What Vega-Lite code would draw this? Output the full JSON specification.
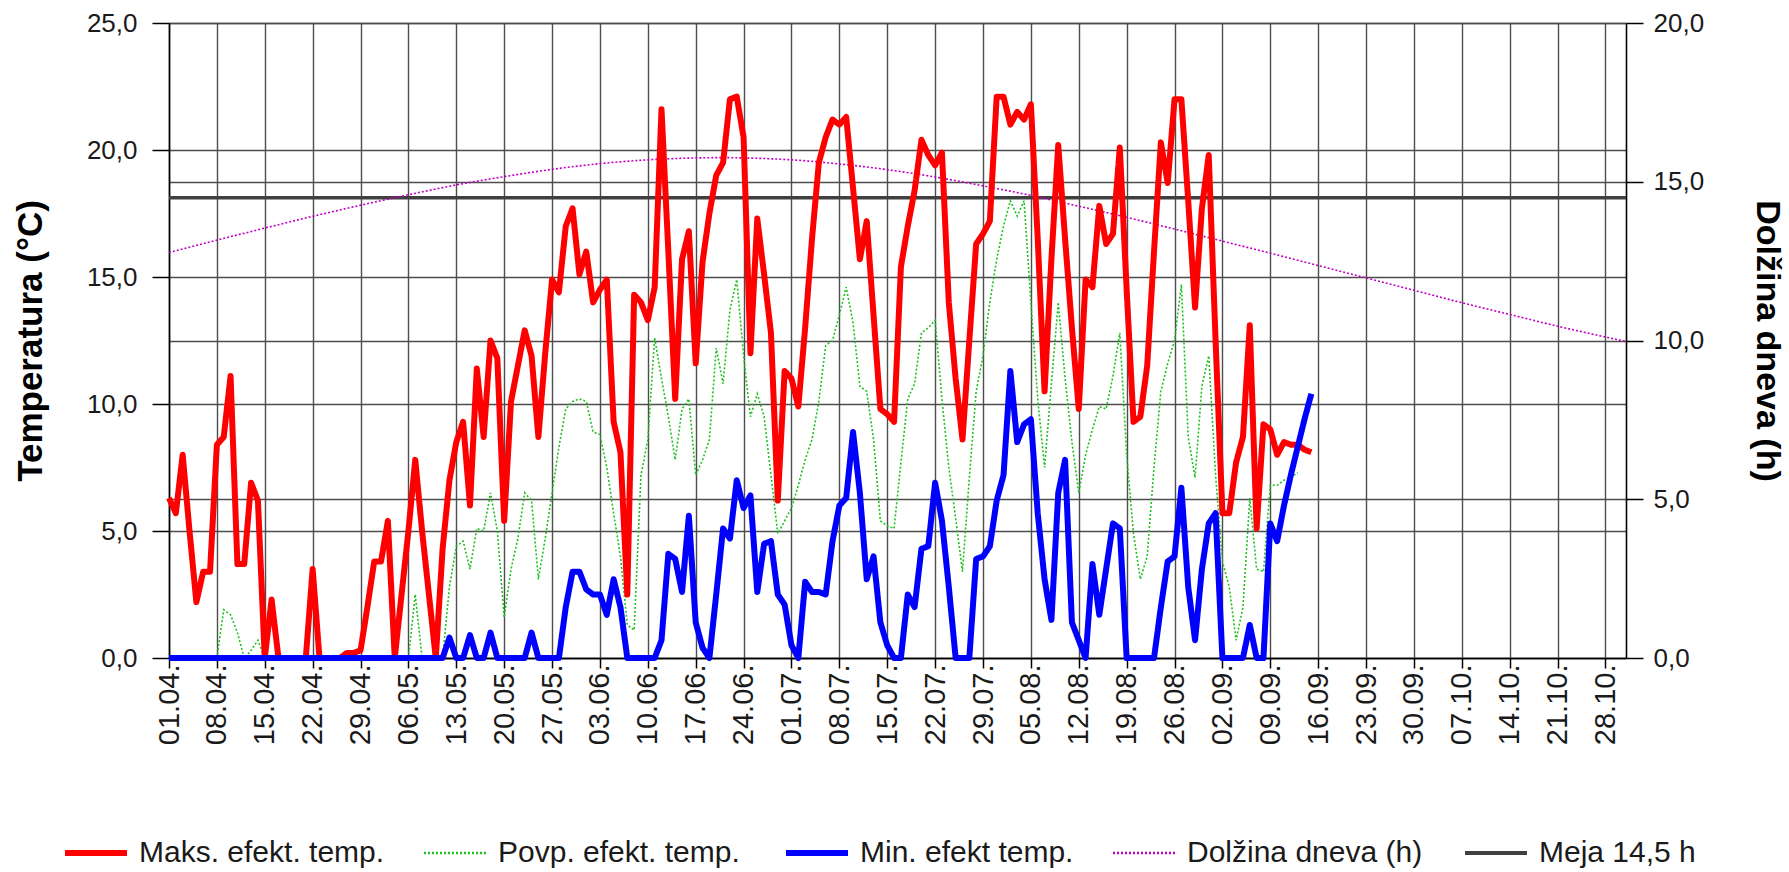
{
  "$schema": "https://vega.github.io/schema/vega-lite/v6.json",
  "width": 1457,
  "height": 635,
  "autosize": {"type": "none"},
  "padding": {"left": 169, "top": 23, "right": 163, "bottom": 214},
  "background": "white",
  "config": {
    "font": "Liberation Sans",
    "view": {"stroke": null},
    "axis": {
      "gridColor": "#4d4d4d", "gridWidth": 1.4, "gridOpacity": 1,
      "domainColor": "#000000", "domainWidth": 1.6,
      "tickColor": "#000000", "tickWidth": 1.5,
      "labelColor": "#1a1a1a", "labelFont": "Liberation Sans",
      "titleFont": "Liberation Sans", "titleColor": "#000000", "titleFontWeight": "bold"
    }
  },
  "datasets": {
    "day": [
      {"d": "2018-04-01", "v": 14.5, "s": "meja"},
      {"d": "2018-10-31", "v": 14.5, "s": "meja"},
      {"d": "2018-04-01", "v": 12.77, "s": "len"},
      {"d": "2018-04-08", "v": 13.16, "s": "len"},
      {"d": "2018-04-15", "v": 13.54, "s": "len"},
      {"d": "2018-04-22", "v": 13.91, "s": "len"},
      {"d": "2018-04-29", "v": 14.26, "s": "len"},
      {"d": "2018-05-06", "v": 14.59, "s": "len"},
      {"d": "2018-05-13", "v": 14.90, "s": "len"},
      {"d": "2018-05-20", "v": 15.16, "s": "len"},
      {"d": "2018-05-27", "v": 15.39, "s": "len"},
      {"d": "2018-06-03", "v": 15.57, "s": "len"},
      {"d": "2018-06-10", "v": 15.69, "s": "len"},
      {"d": "2018-06-17", "v": 15.75, "s": "len"},
      {"d": "2018-06-21", "v": 15.76, "s": "len"},
      {"d": "2018-06-24", "v": 15.75, "s": "len"},
      {"d": "2018-07-01", "v": 15.69, "s": "len"},
      {"d": "2018-07-08", "v": 15.56, "s": "len"},
      {"d": "2018-07-15", "v": 15.38, "s": "len"},
      {"d": "2018-07-22", "v": 15.15, "s": "len"},
      {"d": "2018-07-29", "v": 14.87, "s": "len"},
      {"d": "2018-08-05", "v": 14.57, "s": "len"},
      {"d": "2018-08-12", "v": 14.23, "s": "len"},
      {"d": "2018-08-19", "v": 13.88, "s": "len"},
      {"d": "2018-08-26", "v": 13.51, "s": "len"},
      {"d": "2018-09-02", "v": 13.13, "s": "len"},
      {"d": "2018-09-09", "v": 12.75, "s": "len"},
      {"d": "2018-09-16", "v": 12.36, "s": "len"},
      {"d": "2018-09-23", "v": 11.97, "s": "len"},
      {"d": "2018-09-30", "v": 11.58, "s": "len"},
      {"d": "2018-10-07", "v": 11.19, "s": "len"},
      {"d": "2018-10-14", "v": 10.82, "s": "len"},
      {"d": "2018-10-21", "v": 10.45, "s": "len"},
      {"d": "2018-10-28", "v": 10.11, "s": "len"},
      {"d": "2018-10-31", "v": 9.97, "s": "len"}
    ],
    "temp": [
      {"d": "2018-04-01", "max": 6.3, "avg": 0, "min": 0},
      {"d": "2018-04-02", "max": 5.7, "avg": 0, "min": 0},
      {"d": "2018-04-03", "max": 8.0, "avg": 0, "min": 0},
      {"d": "2018-04-04", "max": 5.0, "avg": 0, "min": 0},
      {"d": "2018-04-05", "max": 2.2, "avg": 0, "min": 0},
      {"d": "2018-04-06", "max": 3.4, "avg": 0, "min": 0},
      {"d": "2018-04-07", "max": 3.4, "avg": 0, "min": 0},
      {"d": "2018-04-08", "max": 8.4, "avg": 0, "min": 0},
      {"d": "2018-04-09", "max": 8.7, "avg": 1.9, "min": 0},
      {"d": "2018-04-10", "max": 11.1, "avg": 1.7, "min": 0},
      {"d": "2018-04-11", "max": 3.7, "avg": 1.0, "min": 0},
      {"d": "2018-04-12", "max": 3.7, "avg": 0, "min": 0},
      {"d": "2018-04-13", "max": 6.9, "avg": 0.3, "min": 0},
      {"d": "2018-04-14", "max": 6.2, "avg": 0.7, "min": 0},
      {"d": "2018-04-15", "max": 0, "avg": 0, "min": 0},
      {"d": "2018-04-16", "max": 2.3, "avg": 0, "min": 0},
      {"d": "2018-04-17", "max": 0, "avg": 0, "min": 0},
      {"d": "2018-04-18", "max": 0, "avg": 0, "min": 0},
      {"d": "2018-04-19", "max": 0, "avg": 0, "min": 0},
      {"d": "2018-04-20", "max": 0, "avg": 0, "min": 0},
      {"d": "2018-04-21", "max": 0, "avg": 0, "min": 0},
      {"d": "2018-04-22", "max": 3.5, "avg": 0, "min": 0},
      {"d": "2018-04-23", "max": 0, "avg": 0, "min": 0},
      {"d": "2018-04-24", "max": 0, "avg": 0, "min": 0},
      {"d": "2018-04-25", "max": 0, "avg": 0, "min": 0},
      {"d": "2018-04-26", "max": 0, "avg": 0, "min": 0},
      {"d": "2018-04-27", "max": 0.2, "avg": 0, "min": 0},
      {"d": "2018-04-28", "max": 0.2, "avg": 0, "min": 0},
      {"d": "2018-04-29", "max": 0.3, "avg": 0, "min": 0},
      {"d": "2018-04-30", "max": 2.0, "avg": 0, "min": 0},
      {"d": "2018-05-01", "max": 3.8, "avg": 0, "min": 0},
      {"d": "2018-05-02", "max": 3.8, "avg": 0, "min": 0},
      {"d": "2018-05-03", "max": 5.4, "avg": 0, "min": 0},
      {"d": "2018-05-04", "max": 0, "avg": 0, "min": 0},
      {"d": "2018-05-05", "max": 2.5, "avg": 0, "min": 0},
      {"d": "2018-05-06", "max": 5.0, "avg": 0, "min": 0},
      {"d": "2018-05-07", "max": 7.8, "avg": 2.5, "min": 0},
      {"d": "2018-05-08", "max": 5.0, "avg": 0, "min": 0},
      {"d": "2018-05-09", "max": 2.5, "avg": 0, "min": 0},
      {"d": "2018-05-10", "max": 0, "avg": 0, "min": 0},
      {"d": "2018-05-11", "max": 4.3, "avg": 0, "min": 0},
      {"d": "2018-05-12", "max": 7.0, "avg": 2.8, "min": 0.8},
      {"d": "2018-05-13", "max": 8.5, "avg": 4.4, "min": 0},
      {"d": "2018-05-14", "max": 9.3, "avg": 4.6, "min": 0},
      {"d": "2018-05-15", "max": 6.0, "avg": 3.5, "min": 0.9},
      {"d": "2018-05-16", "max": 11.4, "avg": 5.1, "min": 0},
      {"d": "2018-05-17", "max": 8.7, "avg": 5.0, "min": 0},
      {"d": "2018-05-18", "max": 12.5, "avg": 6.5, "min": 1.0},
      {"d": "2018-05-19", "max": 11.8, "avg": 5.0, "min": 0},
      {"d": "2018-05-20", "max": 5.4, "avg": 1.6, "min": 0},
      {"d": "2018-05-21", "max": 10.1, "avg": 3.5, "min": 0},
      {"d": "2018-05-22", "max": 11.5, "avg": 4.7, "min": 0},
      {"d": "2018-05-23", "max": 12.9, "avg": 6.5, "min": 0},
      {"d": "2018-05-24", "max": 11.9, "avg": 6.2, "min": 1.0},
      {"d": "2018-05-25", "max": 8.7, "avg": 3.1, "min": 0},
      {"d": "2018-05-26", "max": 12.0, "avg": 4.7, "min": 0},
      {"d": "2018-05-27", "max": 14.9, "avg": 6.5, "min": 0},
      {"d": "2018-05-28", "max": 14.4, "avg": 8.3, "min": 0},
      {"d": "2018-05-29", "max": 17.0, "avg": 9.8, "min": 2.0},
      {"d": "2018-05-30", "max": 17.7, "avg": 10.1, "min": 3.4},
      {"d": "2018-05-31", "max": 15.1, "avg": 10.2, "min": 3.4},
      {"d": "2018-06-01", "max": 16.0, "avg": 10.1, "min": 2.7},
      {"d": "2018-06-02", "max": 14.0, "avg": 8.9, "min": 2.5},
      {"d": "2018-06-03", "max": 14.5, "avg": 8.8, "min": 2.5},
      {"d": "2018-06-04", "max": 14.9, "avg": 7.5, "min": 1.7},
      {"d": "2018-06-05", "max": 9.3, "avg": 5.7, "min": 3.1},
      {"d": "2018-06-06", "max": 8.1, "avg": 4.0, "min": 2.0},
      {"d": "2018-06-07", "max": 2.5, "avg": 1.3, "min": 0},
      {"d": "2018-06-08", "max": 14.3, "avg": 1.1, "min": 0},
      {"d": "2018-06-09", "max": 14.0, "avg": 7.2, "min": 0},
      {"d": "2018-06-10", "max": 13.3, "avg": 8.6, "min": 0},
      {"d": "2018-06-11", "max": 14.6, "avg": 12.6, "min": 0},
      {"d": "2018-06-12", "max": 21.6, "avg": 11.0, "min": 0.7},
      {"d": "2018-06-13", "max": 16.0, "avg": 9.5, "min": 4.1},
      {"d": "2018-06-14", "max": 10.2, "avg": 7.8, "min": 3.9},
      {"d": "2018-06-15", "max": 15.7, "avg": 9.8, "min": 2.6},
      {"d": "2018-06-16", "max": 16.8, "avg": 10.2, "min": 5.6},
      {"d": "2018-06-17", "max": 11.6, "avg": 7.2, "min": 1.4},
      {"d": "2018-06-18", "max": 15.6, "avg": 7.8, "min": 0.4},
      {"d": "2018-06-19", "max": 17.5, "avg": 8.6, "min": 0},
      {"d": "2018-06-20", "max": 19.0, "avg": 12.2, "min": 2.5},
      {"d": "2018-06-21", "max": 19.5, "avg": 10.8, "min": 5.1},
      {"d": "2018-06-22", "max": 22.0, "avg": 13.7, "min": 4.7},
      {"d": "2018-06-23", "max": 22.1, "avg": 14.9, "min": 7.0},
      {"d": "2018-06-24", "max": 20.5, "avg": 11.9, "min": 5.9},
      {"d": "2018-06-25", "max": 12.0, "avg": 9.5, "min": 6.4},
      {"d": "2018-06-26", "max": 17.3, "avg": 10.4, "min": 2.6},
      {"d": "2018-06-27", "max": 15.1, "avg": 9.5, "min": 4.5},
      {"d": "2018-06-28", "max": 12.8, "avg": 7.2, "min": 4.6},
      {"d": "2018-06-29", "max": 6.2, "avg": 4.9, "min": 2.5},
      {"d": "2018-06-30", "max": 11.3, "avg": 5.4, "min": 2.1},
      {"d": "2018-07-01", "max": 11.0, "avg": 5.9, "min": 0.5},
      {"d": "2018-07-02", "max": 9.9, "avg": 6.8, "min": 0},
      {"d": "2018-07-03", "max": 13.0, "avg": 7.8, "min": 3.0},
      {"d": "2018-07-04", "max": 16.5, "avg": 8.6, "min": 2.6},
      {"d": "2018-07-05", "max": 19.5, "avg": 10.1, "min": 2.6},
      {"d": "2018-07-06", "max": 20.5, "avg": 12.3, "min": 2.5},
      {"d": "2018-07-07", "max": 21.2, "avg": 12.5, "min": 4.6},
      {"d": "2018-07-08", "max": 21.0, "avg": 13.5, "min": 6.0},
      {"d": "2018-07-09", "max": 21.3, "avg": 14.6, "min": 6.3},
      {"d": "2018-07-10", "max": 18.5, "avg": 13.2, "min": 8.9},
      {"d": "2018-07-11", "max": 15.7, "avg": 10.7, "min": 6.5},
      {"d": "2018-07-12", "max": 17.2, "avg": 10.5, "min": 3.1},
      {"d": "2018-07-13", "max": 13.5, "avg": 8.6, "min": 4.0},
      {"d": "2018-07-14", "max": 9.8, "avg": 5.4, "min": 1.4},
      {"d": "2018-07-15", "max": 9.6, "avg": 5.2, "min": 0.5},
      {"d": "2018-07-16", "max": 9.3, "avg": 5.1, "min": 0},
      {"d": "2018-07-17", "max": 15.4, "avg": 7.7, "min": 0},
      {"d": "2018-07-18", "max": 17.0, "avg": 10.2, "min": 2.5},
      {"d": "2018-07-19", "max": 18.4, "avg": 10.8, "min": 2.0},
      {"d": "2018-07-20", "max": 20.4, "avg": 12.8, "min": 4.3},
      {"d": "2018-07-21", "max": 19.8, "avg": 13.0, "min": 4.4},
      {"d": "2018-07-22", "max": 19.4, "avg": 13.3, "min": 6.9},
      {"d": "2018-07-23", "max": 19.9, "avg": 10.2, "min": 5.4},
      {"d": "2018-07-24", "max": 14.0, "avg": 7.5, "min": 2.8},
      {"d": "2018-07-25", "max": 11.0, "avg": 5.5, "min": 0},
      {"d": "2018-07-26", "max": 8.6, "avg": 3.4, "min": 0},
      {"d": "2018-07-27", "max": 12.5, "avg": 7.1, "min": 0},
      {"d": "2018-07-28", "max": 16.3, "avg": 10.5, "min": 3.9},
      {"d": "2018-07-29", "max": 16.7, "avg": 11.9, "min": 4.0},
      {"d": "2018-07-30", "max": 17.2, "avg": 14.0, "min": 4.4},
      {"d": "2018-07-31", "max": 22.1, "avg": 15.7, "min": 6.2},
      {"d": "2018-08-01", "max": 22.1, "avg": 17.0, "min": 7.2},
      {"d": "2018-08-02", "max": 21.0, "avg": 18.0, "min": 11.3},
      {"d": "2018-08-03", "max": 21.5, "avg": 17.4, "min": 8.5},
      {"d": "2018-08-04", "max": 21.2, "avg": 18.0, "min": 9.2},
      {"d": "2018-08-05", "max": 21.8, "avg": 14.0, "min": 9.4},
      {"d": "2018-08-06", "max": 16.5, "avg": 10.2, "min": 5.7},
      {"d": "2018-08-07", "max": 10.5, "avg": 7.5, "min": 3.1},
      {"d": "2018-08-08", "max": 15.7, "avg": 10.8, "min": 1.5},
      {"d": "2018-08-09", "max": 20.2, "avg": 14.0, "min": 6.5},
      {"d": "2018-08-10", "max": 16.5, "avg": 11.0, "min": 7.8},
      {"d": "2018-08-11", "max": 13.0, "avg": 8.5, "min": 1.4},
      {"d": "2018-08-12", "max": 9.8, "avg": 6.5, "min": 0.7},
      {"d": "2018-08-13", "max": 14.9, "avg": 8.0, "min": 0},
      {"d": "2018-08-14", "max": 14.6, "avg": 9.0, "min": 3.7},
      {"d": "2018-08-15", "max": 17.8, "avg": 9.9, "min": 1.7},
      {"d": "2018-08-16", "max": 16.3, "avg": 9.8, "min": 3.5},
      {"d": "2018-08-17", "max": 16.7, "avg": 11.1, "min": 5.3},
      {"d": "2018-08-18", "max": 20.1, "avg": 12.8, "min": 5.1},
      {"d": "2018-08-19", "max": 14.5, "avg": 8.0, "min": 0},
      {"d": "2018-08-20", "max": 9.3, "avg": 4.9, "min": 0},
      {"d": "2018-08-21", "max": 9.5, "avg": 3.1, "min": 0},
      {"d": "2018-08-22", "max": 11.5, "avg": 4.0, "min": 0},
      {"d": "2018-08-23", "max": 16.0, "avg": 7.5, "min": 0},
      {"d": "2018-08-24", "max": 20.3, "avg": 10.5, "min": 2.0},
      {"d": "2018-08-25", "max": 18.7, "avg": 11.6, "min": 3.8},
      {"d": "2018-08-26", "max": 22.0, "avg": 12.5, "min": 4.0},
      {"d": "2018-08-27", "max": 22.0, "avg": 14.7, "min": 6.7},
      {"d": "2018-08-28", "max": 18.0, "avg": 8.7, "min": 2.8},
      {"d": "2018-08-29", "max": 13.8, "avg": 7.1, "min": 0.7},
      {"d": "2018-08-30", "max": 17.7, "avg": 10.7, "min": 3.5},
      {"d": "2018-08-31", "max": 19.8, "avg": 11.9, "min": 5.3},
      {"d": "2018-09-01", "max": 12.5, "avg": 7.2, "min": 5.7},
      {"d": "2018-09-02", "max": 5.7, "avg": 3.8, "min": 0},
      {"d": "2018-09-03", "max": 5.7, "avg": 2.8, "min": 0},
      {"d": "2018-09-04", "max": 7.7, "avg": 0.7, "min": 0},
      {"d": "2018-09-05", "max": 8.7, "avg": 2.0, "min": 0},
      {"d": "2018-09-06", "max": 13.1, "avg": 6.3, "min": 1.3},
      {"d": "2018-09-07", "max": 5.1, "avg": 3.5, "min": 0},
      {"d": "2018-09-08", "max": 9.2, "avg": 3.4, "min": 0},
      {"d": "2018-09-09", "max": 9.0, "avg": 6.8, "min": 5.3},
      {"d": "2018-09-10", "max": 8.0, "avg": 6.8, "min": 4.6},
      {"d": "2018-09-11", "max": 8.5, "avg": 7.0, "min": 6.0},
      {"d": "2018-09-12", "max": 8.4, "avg": 7.1, "min": 7.2},
      {"d": "2018-09-13", "max": 8.4, "avg": 7.3, "min": 8.3},
      {"d": "2018-09-14", "max": 8.2, "avg": null, "min": 9.4},
      {"d": "2018-09-15", "max": 8.1, "avg": null, "min": 10.4}
    ]
  },
  "layer": [
    {
      "data": {"name": "day"},
      "encoding": {
        "x": {
          "field": "d", "type": "temporal",
          "scale": {"type": "utc", "domain": [{"year": 2018, "month": 4, "date": 1, "utc": true}, {"year": 2018, "month": 10, "date": 31, "utc": true}]},
          "axis": {"title": null, "labelExpr": "utcFormat(datum.value, '%d.%m.')", "tickCount": {"interval": "week", "step": 1}, "labelAngle": 270, "labelFontSize": 29, "labelOverlap": false, "labelFlush": false, "labelBound": false, "tickSize": 10, "labelPadding": -4, "grid": true}
        },
        "y": {
          "field": "v", "type": "quantitative",
          "scale": {"domain": [0, 20], "nice": false},
          "axis": {"orient": "right", "title": "Dolžina dneva (h)", "titleFontSize": 34, "titlePadding": 46, "values": [0, 5, 10, 15, 20], "labelExpr": "replace(format(datum.value, '.1f'), '.', ',')", "labelFontSize": 26, "tickSize": 17, "labelPadding": 10, "grid": true}
        },
        "color": {
          "field": "s", "type": "nominal",
          "scale": {"domain": ["max", "avg", "min", "len", "meja"], "range": ["#ff0000", "#1ec01e", "#0000ff", "#c000c0", "#404040"]},
          "legend": {"title": null, "orient": "none", "direction": "horizontal", "legendX": -88, "legendY": 815, "symbolType": "stroke", "symbolSize": 3844, "symbolStrokeWidth": 5, "labelFontSize": 30, "labelColor": "#1a1a1a", "labelOffset": 28, "columnPadding": 34, "labelLimit": 400,
            "labelExpr": "datum.value === 'max' ? 'Maks. efekt. temp.' : datum.value === 'avg' ? 'Povp. efekt. temp.' : datum.value === 'min' ? 'Min. efekt temp.' : datum.value === 'len' ? 'Dolžina dneva (h)' : 'Meja 14,5 h'",
            "encode": {"symbols": {"update": {"strokeWidth": {"signal": "datum.value === 'avg' || datum.value === 'len' ? 2.5 : (datum.value === 'meja' ? 4 : 6)"}}}}}
        },
        "strokeDash": {
          "field": "s", "type": "nominal",
          "scale": {"domain": ["max", "avg", "min", "len", "meja"], "range": [[1, 0], [2, 2], [1, 0], [2, 2], [1, 0]]},
          "legend": {"title": null, "orient": "none", "direction": "horizontal", "legendX": -88, "legendY": 815, "symbolType": "stroke", "symbolSize": 3844, "symbolStrokeWidth": 5, "labelFontSize": 30, "labelColor": "#1a1a1a", "labelOffset": 28, "columnPadding": 34, "labelLimit": 400,
            "labelExpr": "datum.value === 'max' ? 'Maks. efekt. temp.' : datum.value === 'avg' ? 'Povp. efekt. temp.' : datum.value === 'min' ? 'Min. efekt temp.' : datum.value === 'len' ? 'Dolžina dneva (h)' : 'Meja 14,5 h'",
            "encode": {"symbols": {"update": {"strokeWidth": {"signal": "datum.value === 'avg' || datum.value === 'len' ? 2.5 : (datum.value === 'meja' ? 4 : 6)"}}}}}
        }
      },
      "layer": [
        {"transform": [{"filter": "datum.s === 'meja'"}], "mark": {"type": "line", "strokeWidth": 3.5}},
        {"transform": [{"filter": "datum.s === 'len'"}], "mark": {"type": "line", "strokeWidth": 1.6, "interpolate": "monotone"}}
      ]
    },
    {
      "data": {"name": "temp"},
      "transform": [{"fold": ["avg", "max", "min"], "as": ["s", "v"]}],
      "encoding": {
        "x": {
          "field": "d", "type": "temporal",
          "scale": {"type": "utc", "domain": [{"year": 2018, "month": 4, "date": 1, "utc": true}, {"year": 2018, "month": 10, "date": 31, "utc": true}]},
          "axis": {"title": null, "labelExpr": "utcFormat(datum.value, '%d.%m.')", "tickCount": {"interval": "week", "step": 1}, "labelAngle": 270, "labelFontSize": 29, "labelOverlap": false, "labelFlush": false, "labelBound": false, "tickSize": 10, "labelPadding": -4, "grid": true}
        },
        "y": {
          "field": "v", "type": "quantitative",
          "scale": {"domain": [0, 25], "nice": false},
          "axis": {"orient": "left", "title": "Temperatura (°C)", "titleFontSize": 35, "titlePadding": 38, "values": [0, 5, 10, 15, 20, 25], "labelExpr": "replace(format(datum.value, '.1f'), '.', ',')", "labelFontSize": 26, "tickSize": 17, "labelPadding": 15, "grid": true}
        },
        "color": {"field": "s", "type": "nominal"},
        "strokeDash": {"field": "s", "type": "nominal"}
      },
      "layer": [
        {"transform": [{"filter": "datum.s === 'avg'"}], "mark": {"type": "line", "strokeWidth": 1.6}},
        {"transform": [{"filter": "datum.s !== 'avg'"}], "mark": {"type": "line", "strokeWidth": 6, "strokeJoin": "round"}}
      ]
    }
  ],
  "resolve": {"scale": {"y": "independent"}}
}
